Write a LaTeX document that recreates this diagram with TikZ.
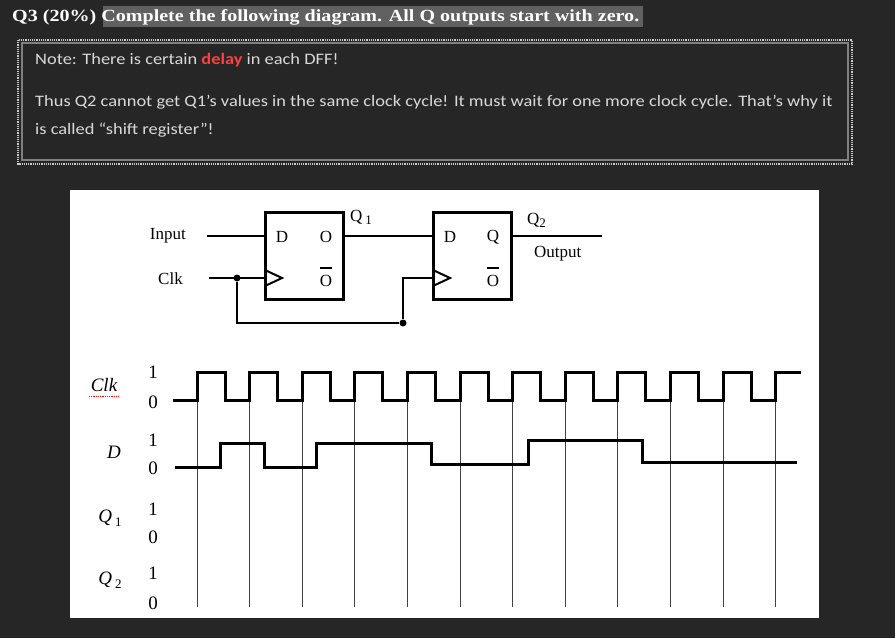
\documentclass[tikz,border=0pt]{standalone}
\usepackage{fontspec}
\setmainfont{Liberation Serif}
\newfontfamily\notefont{Carlito}
\newcommand\subsz[1]{{\fontsize{13}{13}\selectfont #1}}
\begin{document}
\begin{tikzpicture}[x=1pt,y=-1pt,
  wire/.style={line width=1.5pt},
  wave/.style={line width=3pt},
  grid/.style={line width=0.7pt,black!75},
  ff/.style={draw,line width=3pt},
  lbl/.style={font=\fontsize{17}{17}\selectfont,inner sep=0pt},
  lvl/.style={font=\fontsize{19}{19}\selectfont,inner sep=0pt},
  note/.style={anchor=west,inner sep=0pt,text=white!85!black,font=\notefont\fontsize{16}{16}\selectfont,xscale=1.15,transform shape},
  dot/.style={circle,fill,inner sep=0pt,minimum size=7pt}]
\fill[fill={rgb,255:red,38;green,38;blue,38}] (0,0) rectangle (895,638);
\useasboundingbox (0,0) rectangle (895,638);
% header
\fill[gray!75!black] (103,6) rectangle (643,27);
\node[anchor=west,inner sep=0pt,text=white,font=\bfseries\fontsize{17}{17}\selectfont,xscale=1.18,transform shape] (hd) at (12,17) {Q3 (20\%) Complete the following diagram. All Q outputs start with zero.};
\draw[white!80!black,densely dotted,line width=1.2pt] (18,40) rectangle (852,164);
\draw[gray,line width=1.5pt] (22,43) rectangle (848,160);
\node[note] (n1) at (35,60) {Note: There is certain \textcolor{red!75!white}{\bfseries delay} in each DFF!};
\node[note] (n2) at (35,102) {Thus Q2 cannot get Q1’s values in the same clock cycle! It must wait for one more clock cycle. That’s why it};
\node[note] (n3) at (35,130) {is called “shift register”!};
% white panel
\fill[white] (70,190) rectangle (819,618);
% circuit
\node[ff,minimum width=78pt,minimum height=87pt,inner sep=0pt] (f1) at (304,255.5) {};
\node[ff,minimum width=78pt,minimum height=87pt,inner sep=0pt] (f2) at (472,255.5) {};
\node[lbl] (f1d) at (282,237) {D};
\node[lbl] (f1q) at (326,237) {O};
\node[lbl] (f1n) at (326,281) {O};
\draw[line width=1.2pt] (320,268) -- (332,268);
\node[lbl] (f2d) at (450,237) {D};
\node[lbl] (f2q) at (493,237) {Q};
\node[lbl] (f2n) at (493,281) {O};
\draw[line width=1.2pt] (487,268) -- (499,268);
\draw[line width=2pt] (265,270) -- (282,278) -- (265,286);
\draw[line width=2pt] (433,270) -- (450,278) -- (433,286);
\node[lbl,anchor=east] (in) at (186,236) {Input};
\node[lbl,anchor=east] (clk) at (183,279) {Clk};
\coordinate (ine) at (207,236);
\coordinate (clke) at (209,278);
\coordinate (outE) at (602,236);
\draw[wire] (ine) -- (ine -| f1.west);
\draw[wire] (f1.east |- ine) -- (f2.west |- ine);
\draw[wire] (f2.east |- ine) -- (outE);
\node[dot] (d1) at (237,278) {};
\node[dot] (d2) at (403,323) {};
\draw[wire] (clke) -- (265,278);
\draw[wire] (d1) |- (d2) |- (433,278);
\node[lbl,anchor=west] (q1) at (350,217) {Q\,\raisebox{-3pt}{\subsz{1}}};
\node[lbl,anchor=west] (q2) at (527,220) {Q\raisebox{-3pt}{\subsz{2}}};
\node[lbl,anchor=west] (out) at (534,254) {Output};
% waveform labels
\node[lvl,font=\itshape\fontsize{19}{19}\selectfont] (lc) at (104,385) {Clk};
\draw[red,densely dotted,line width=0.8pt] (89,396) -- (119,396);
\node[lvl,font=\itshape\fontsize{19}{19}\selectfont] (ld) at (114,452) {D};
\node[lvl,font=\itshape\fontsize{19}{19}\selectfont] (lq1) at (110,518) {Q\,\raisebox{-4pt}{\upshape\subsz{1}}};
\node[lvl,font=\itshape\fontsize{19}{19}\selectfont] (lq2) at (110,580) {Q\,\raisebox{-4pt}{\upshape\subsz{2}}};
\foreach \y/\t in {372/1,402/0,440/1,468/0,509/1,537/0,573/1,603/0}
  \node[lvl] at (153,\y) {\t};
% grid lines
\foreach \k in {0,...,11}
  \draw[grid] ({197+52.6*\k},400) -- ({197+52.6*\k},607);
% clock
\draw[wave] (173,400)
  \foreach \k in {0,...,10} { -- ({197+52.6*\k},400) -- ({197+52.6*\k},372) -- ({225+52.6*\k},372) -- ({225+52.6*\k},400) }
  -- (775.6,400) -- (775.6,372) -- (801,372);
% D
\draw[wave] (175,467) -- (220,467) -- (220,443) -- (264,443) -- (264,467) -- (316,467) -- (316,443) -- (431,443) -- (431,464) -- (528,464) -- (528,440) -- (642,440) -- (642,462) -- (797,462);
\end{tikzpicture}
\end{document}
